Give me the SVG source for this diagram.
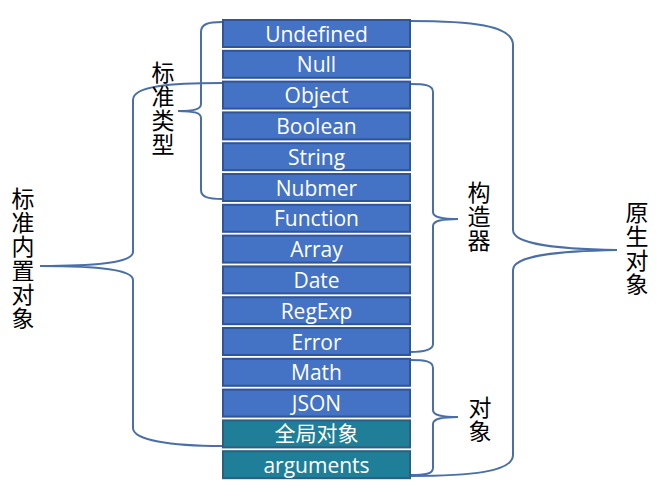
<svg xmlns="http://www.w3.org/2000/svg" width="658" height="486" viewBox="0 0 658 486">
<style>
.box{fill:#4472C4;stroke:#2F5597;stroke-width:2}
.teal{fill:#1F7F98;stroke:#2A5F80;stroke-width:2}
.bt{font-family:"Open Sans","Noto Sans",sans-serif;font-size:21px;fill:#FFFFFF;text-anchor:middle}
.cjk{font-family:"Noto Sans CJK SC",sans-serif;font-size:21px}
.lab{font-family:"Noto Sans CJK SC",sans-serif;font-size:23px;fill:#000000;writing-mode:vertical-rl;text-orientation:upright}
.br{fill:none;stroke:#4A6FA8;stroke-width:2}
</style>
<rect width="658" height="486" fill="#FFFFFF"/>
<g id="connectors">
<path class="br" d="M 410 21 C 470 21 513 25 513 45 L 513 230 C 513 245 560 249 617 250 C 560 251 513 255 513 270 L 513 455 C 513 472 470 476 410 476"/>
<path class="br" d="M 410 84 C 425 84 433 85 433 92 L 433 212 C 433 217 440 219 458 219 C 440 219 433 221 433 226 L 433 344 C 433 350 425 352 410 352"/>
<path class="br" d="M 410 360 C 425 360 433 361 433 368 L 433 410 C 433 415 440 417 458 417 C 440 417 433 419 433 424 L 433 468 C 433 474 425 475 410 475"/>
<path class="br" d="M 222 22 C 208 22 201 24 201 32 L 201 104 C 201 109 195 111 178 111 C 195 111 201 113 201 118 L 201 190 C 201 197 208 199 222 199"/>
<path class="br" d="M 222 83 C 170 83 133 86 133 100 L 133 252 C 133 262 100 266 40 266 C 100 266 133 270 133 280 L 133 428 C 133 440 170 446 222 446"/>
</g>
<g id="n-undefined"><rect class="box" x="223" y="20" width="187" height="27"/><text class="bt" x="316.5" y="41.5">Undefined</text></g>
<g id="n-null"><rect class="box" x="223" y="50.8" width="187" height="27"/><text class="bt" x="316.5" y="72.3">Null</text></g>
<g id="n-object"><rect class="box" x="223" y="81.6" width="187" height="27"/><text class="bt" x="316.5" y="103.1">Object</text></g>
<g id="n-boolean"><rect class="box" x="223" y="112.4" width="187" height="27"/><text class="bt" x="316.5" y="133.9">Boolean</text></g>
<g id="n-string"><rect class="box" x="223" y="143.2" width="187" height="27"/><text class="bt" x="316.5" y="164.7">String</text></g>
<g id="n-nubmer"><rect class="box" x="223" y="174" width="187" height="27"/><text class="bt" x="316.5" y="195.5">Nubmer</text></g>
<g id="n-function"><rect class="box" x="223" y="204.8" width="187" height="27"/><text class="bt" x="316.5" y="226.3">Function</text></g>
<g id="n-array"><rect class="box" x="223" y="235.6" width="187" height="27"/><text class="bt" x="316.5" y="257.1">Array</text></g>
<g id="n-date"><rect class="box" x="223" y="266.4" width="187" height="27"/><text class="bt" x="316.5" y="287.9">Date</text></g>
<g id="n-regexp"><rect class="box" x="223" y="297.2" width="187" height="27"/><text class="bt" x="316.5" y="318.7">RegExp</text></g>
<g id="n-error"><rect class="box" x="223" y="328" width="187" height="27"/><text class="bt" x="316.5" y="349.5">Error</text></g>
<g id="n-math"><rect class="box" x="223" y="358.8" width="187" height="27"/><text class="bt" x="316.5" y="380.3">Math</text></g>
<g id="n-json"><rect class="box" x="223" y="389.6" width="187" height="27"/><text class="bt" x="316.5" y="411.1">JSON</text></g>
<g id="n-global"><rect class="teal" x="223" y="420.4" width="187" height="27"/><text class="bt cjk" x="316.5" y="441.4">全局对象</text></g>
<g id="n-arguments"><rect class="teal" x="223" y="451.2" width="187" height="27"/><text class="bt" x="316.5" y="472.7">arguments</text></g>
<g id="l-std-types"><text class="lab" x="163" y="61">标</text><text class="lab" x="163" y="85">准</text><text class="lab" x="163" y="109">类</text><text class="lab" x="163" y="133">型</text></g>
<g id="l-builtin"><text class="lab" x="23" y="187">标</text><text class="lab" x="23" y="211">准</text><text class="lab" x="23" y="235">内</text><text class="lab" x="23" y="259">置</text><text class="lab" x="23" y="283">对</text><text class="lab" x="23" y="307">象</text></g>
<g id="l-ctor"><text class="lab" x="479" y="181">构</text><text class="lab" x="479" y="205">造</text><text class="lab" x="479" y="229">器</text></g>
<g id="l-obj"><text class="lab" x="480" y="396">对</text><text class="lab" x="480" y="420">象</text></g>
<g id="l-native"><text class="lab" x="637" y="201">原</text><text class="lab" x="637" y="225">生</text><text class="lab" x="637" y="249">对</text><text class="lab" x="637" y="273">象</text></g>
</svg>
